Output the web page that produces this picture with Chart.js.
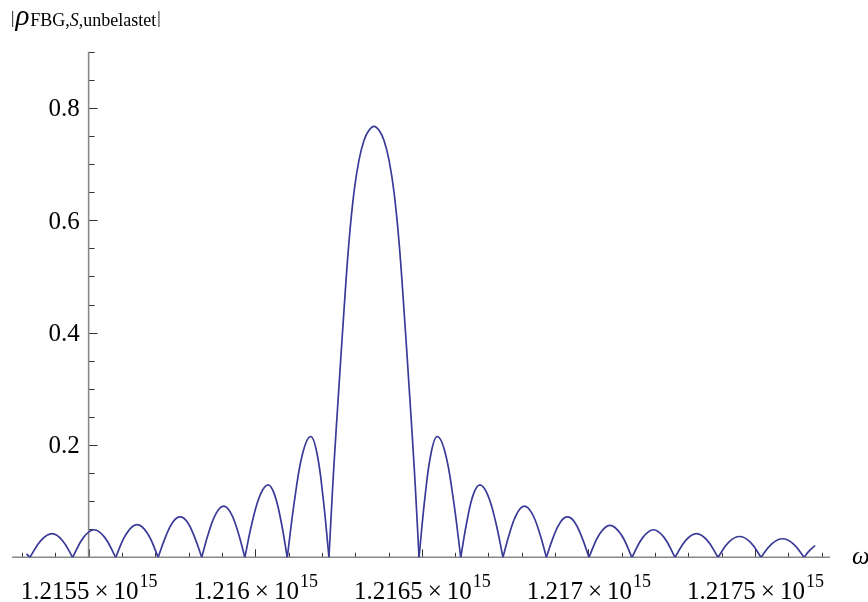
<!DOCTYPE html>
<html>
<head>
<meta charset="utf-8">
<title>|ρ FBG,S,unbelastet| vs ω</title>
<script src="https://cdn.jsdelivr.net/npm/chart.js@4/dist/chart.umd.min.js"></script>
<style>
  html, body { margin: 0; padding: 0; background: #fff; }
  #chart { display: block; }
</style>
</head>
<body>
<canvas id="chart" width="868" height="602"></canvas>
<script>
// omega in units of 10^15 rad/s, null marks a zero of |rho| where the curve has a cusp
const omega = [
    1.2153138, 1.2153237, null,
    1.2153237, 1.2153571, 1.2153904, 1.2154212, 1.2154520, null,
    1.2154520, 1.2154842, 1.2155165, 1.2155488, 1.2155811, null,
    1.2155811, 1.2156134, 1.2156456, 1.2156772, 1.2157087, null,
    1.2157087, 1.2157306, 1.2157529, 1.2157748, 1.2157961, 1.2158180, 1.2158393, null,
    1.2158393, 1.2158613, 1.2158835, 1.2159054, 1.2159264, 1.2159478, 1.2159688, null,
    1.2159688, 1.2159919, 1.2160156, 1.2160387, 1.2160577, 1.2160772, 1.2160961, null,
    1.2160961, 1.2161195, 1.2161432, 1.2161667, 1.2161847, 1.2162033, 1.2162213, null,
    1.2162213, 1.2162288, 1.2162363, 1.2162514, 1.2162664, 1.2162814, 1.2162964, 1.2163114, 1.2163264, 1.2163414,
    1.2163565, 1.2163715, 1.2163865, 1.2164015, 1.2164165, 1.2164315, 1.2164465, 1.2164616, 1.2164766, 1.2164841, 1.2164916, null,
    1.2164916, 1.2165096, 1.2165282, 1.2165462, 1.2165697, 1.2165934, 1.2166168, null,
    1.2166168, 1.2166357, 1.2166547, 1.2166742, 1.2166970, 1.2167207, 1.2167435, null,
    1.2167435, 1.2167649, 1.2167865, 1.2168078, 1.2168297, 1.2168520, 1.2168739, null,
    1.2168739, 1.2168946, 1.2169162, 1.2169369, 1.2169583, 1.2169802, 1.2170015, null,
    1.2170015, 1.2170330, 1.2170646, 1.2170976, 1.2171306, null,
    1.2171306, 1.2171629, 1.2171952, 1.2172275, 1.2172598, null,
    1.2172598, 1.2172920, 1.2173243, 1.2173566, 1.2173889, null,
    1.2173889, 1.2174212, 1.2174535, 1.2174857, 1.2175180, null,
    1.2175180, 1.2175503, 1.2175826, 1.2176149, 1.2176471, null,
    1.2176471, 1.2176607, 1.2176802
];
const rho = [
    0.006, 0, null,
    0, 0.030, 0.042, 0.030, 0, null,
    0, 0.035, 0.049, 0.035, 0, null,
    0, 0.042, 0.058, 0.042, 0, null,
    0, 0.036, 0.063, 0.072, 0.063, 0.036, 0, null,
    0, 0.046, 0.079, 0.091, 0.079, 0.046, 0, null,
    0, 0.065, 0.112, 0.129, 0.112, 0.065, 0, null,
    0, 0.108, 0.187, 0.215, 0.187, 0.108, 0, null,
    0, 0.085, 0.165, 0.305, 0.440, 0.562, 0.650, 0.707, 0.742, 0.760,
    0.767, 0.760, 0.742, 0.707, 0.650, 0.562, 0.440, 0.305, 0.165, 0.085, 0, null,
    0, 0.108, 0.187, 0.215, 0.187, 0.108, 0, null,
    0, 0.065, 0.112, 0.129, 0.112, 0.065, 0, null,
    0, 0.046, 0.079, 0.091, 0.079, 0.046, 0, null,
    0, 0.036, 0.063, 0.072, 0.063, 0.036, 0, null,
    0, 0.041, 0.057, 0.041, 0, null,
    0, 0.035, 0.049, 0.035, 0, null,
    0, 0.030, 0.042, 0.030, 0, null,
    0, 0.027, 0.037, 0.027, 0, null,
    0, 0.024, 0.033, 0.024, 0, null,
    0, 0.010, 0.021
];

const xTickValues = [1.2155, 1.216, 1.2165, 1.217, 1.2175];
const xTickLabels = ['1.2155', '1.216', '1.2165', '1.217', '1.2175'];
const xTickExponent = '15';
const yTickValues = [0.2, 0.4, 0.6, 0.8];
const yTickLabels = ['0.2', '0.4', '0.6', '0.8'];

const SERIF = '"Liberation Serif", "Times New Roman", serif';
const LINE_COLOR = '#3a3a98';
const AXIS_COLOR = '#8a8a8a';

// split into one dataset per lobe so the cusps at the zeros stay sharp
function buildSegments() {
    const segments = [];
    let current = [];
    omega.forEach((w, i) => {
        if (w === null || rho[i] === null) {
            if (current.length) segments.push(current);
            current = [];
            return;
        }
        current.push({ x: w, y: rho[i] });
    });
    if (current.length) segments.push(current);
    return segments;
}

const mmaAxes = {
    id: 'mmaAxes',
    beforeDatasetsDraw(chart) {
        const { ctx, chartArea, scales: { x, y } } = chart;
        const x0 = x.getPixelForValue(xTickValues[0]);
        const y0 = y.getPixelForValue(0);
        ctx.save();

        // tick marks (pointing into the plot)
        ctx.strokeStyle = '#333';
        ctx.lineWidth = 1;
        ctx.beginPath();
        for (let i = 12153; i <= 12177; i++) {
            const px = Math.round(x.getPixelForValue(i / 10000)) + 0.5;
            const len = i % 5 === 0 ? 8 : 4.5;
            ctx.moveTo(px, y0);
            ctx.lineTo(px, y0 - len);
        }
        for (let i = 1; i <= 18; i++) {
            const py = Math.round(y.getPixelForValue(i * 0.05)) + 0.5;
            const len = i % 4 === 0 ? 9 : 6;
            ctx.moveTo(x0, py);
            ctx.lineTo(x0 + len, py);
        }
        ctx.stroke();

        // axes
        ctx.strokeStyle = AXIS_COLOR;
        ctx.lineWidth = 1.6;
        ctx.beginPath();
        ctx.moveTo(chartArea.left, y0);
        ctx.lineTo(chartArea.right, y0);
        ctx.moveTo(x0, chartArea.top);
        ctx.lineTo(x0, y0);
        ctx.stroke();
        ctx.restore();
    },
    afterDraw(chart) {
        const { ctx, scales: { x, y } } = chart;
        const x0 = x.getPixelForValue(xTickValues[0]);
        ctx.save();
        ctx.fillStyle = '#000';
        ctx.textBaseline = 'alphabetic';

        // y tick labels
        ctx.textAlign = 'right';
        ctx.font = '25px ' + SERIF;
        yTickValues.forEach((v, i) => {
            ctx.fillText(yTickLabels[i], x0 - 9, y.getPixelForValue(v) + 8.5);
        });

        // x tick labels with superscript exponent
        ctx.textAlign = 'left';
        xTickValues.forEach((v, i) => {
            const base = xTickLabels[i] + '\u2009\u00d7\u200910';
            ctx.font = '25px ' + SERIF;
            const wb = ctx.measureText(base).width;
            ctx.font = '18px ' + SERIF;
            const ws = ctx.measureText(xTickExponent).width;
            const left = x.getPixelForValue(v) - (wb + ws) / 2;
            ctx.font = '25px ' + SERIF;
            ctx.fillText(base, left, 599);
            ctx.font = '18px ' + SERIF;
            ctx.fillText(xTickExponent, left + wb + 1, 587);
        });

        // y axis label |rho_FBG,S,unbelastet|
        const runs = [
            { t: '|', f: '17px ' + SERIF, b: 23, gap: 1 },
            { t: '\u03c1', f: 'italic 29px ' + SERIF, b: 25, gap: 1 },
            { t: 'FBG,', f: '18px ' + SERIF, b: 26, gap: 0 },
            { t: 'S', f: 'italic 18px ' + SERIF, b: 26, gap: 0 },
            { t: ',unbelastet', f: '18px ' + SERIF, b: 26, gap: 1 },
            { t: '|', f: '17px ' + SERIF, b: 23, gap: 0 }
        ];
        let cx = 11;
        runs.forEach(r => {
            ctx.font = r.f;
            ctx.fillText(r.t, cx, r.b);
            cx += ctx.measureText(r.t).width + r.gap;
        });

        // x axis label
        ctx.font = 'italic 25px ' + SERIF;
        ctx.fillText('\u03c9', 852, 564);
        ctx.restore();
    }
};

const datasets = buildSegments().map(seg => ({
    data: seg,
    borderColor: LINE_COLOR,
    borderWidth: 1.7,
    pointRadius: 0,
    tension: 0.4,
    fill: false
}));

new Chart(document.getElementById('chart').getContext('2d'), {
    type: 'line',
    data: { datasets },
    options: {
        responsive: false,
        animation: false,
        layout: { padding: { left: 12, right: 38, top: 51.7, bottom: 44.7 } },
        plugins: { legend: { display: false }, tooltip: { enabled: false } },
        scales: {
            x: { type: 'linear', min: 1.21527, max: 1.217725, display: false },
            y: { type: 'linear', min: 0, max: 0.9, display: false }
        }
    },
    plugins: [mmaAxes]
});
</script>
</body>
</html>
